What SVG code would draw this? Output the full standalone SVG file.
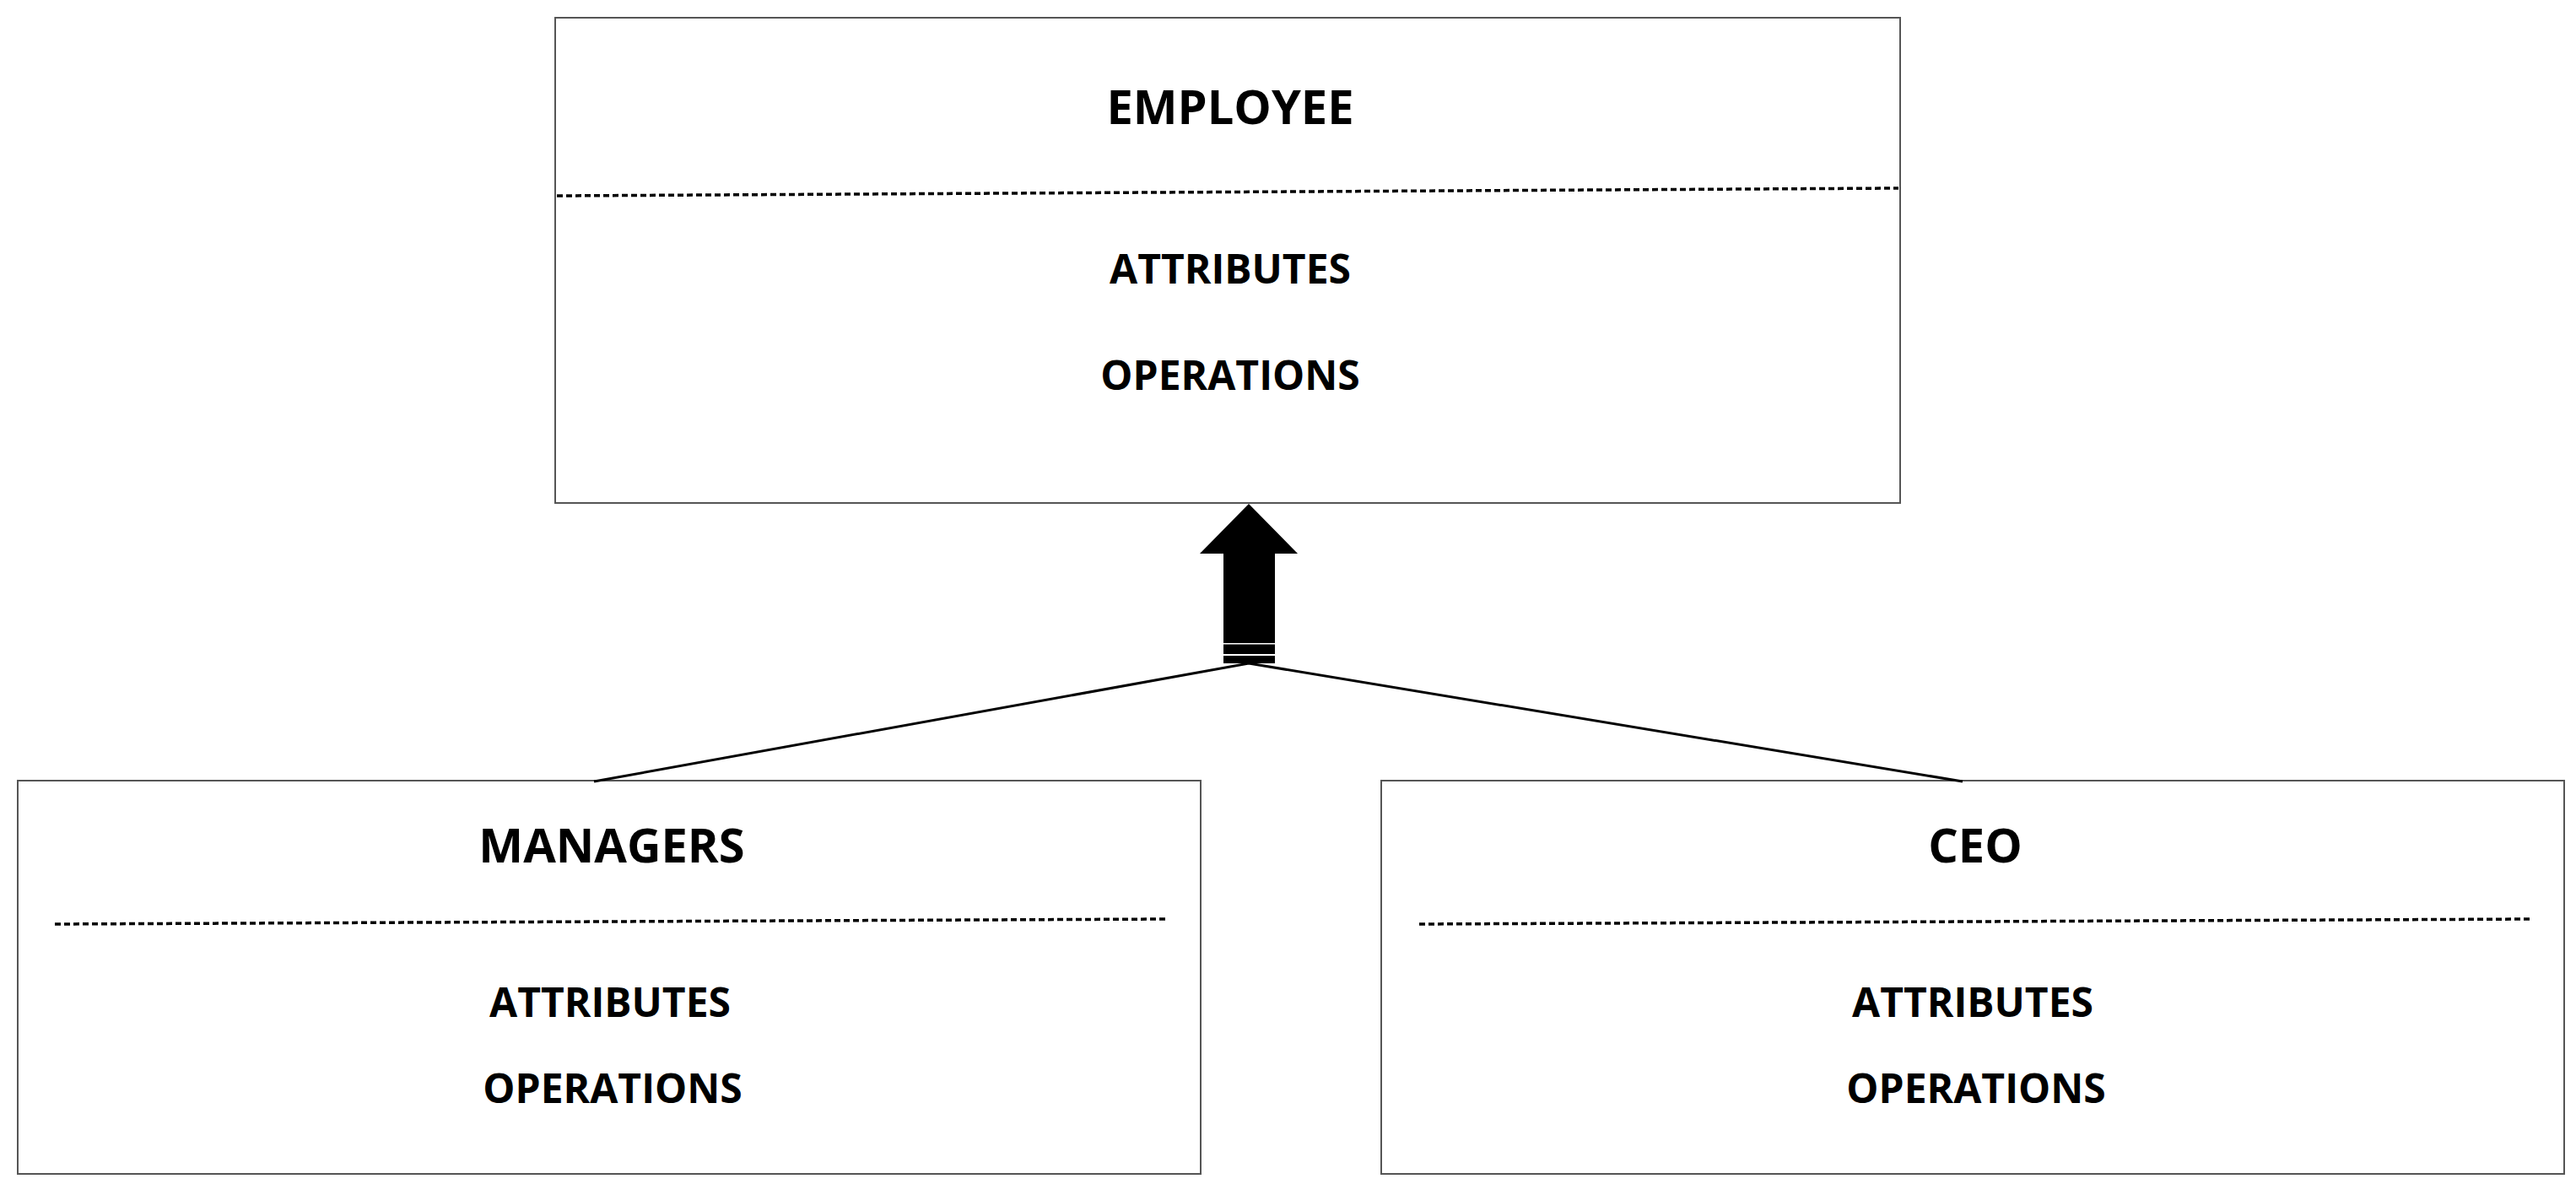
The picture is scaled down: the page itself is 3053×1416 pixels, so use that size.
<svg xmlns="http://www.w3.org/2000/svg" width="3053" height="1416" viewBox="0 0 3053 1416">
<style>
.box{fill:#fff;stroke:#555;stroke-width:2}
.sep{fill:none;stroke:#000;stroke-width:3.5;stroke-dasharray:7 4}
.t{font-family:"Open Sans","Liberation Sans",sans-serif;font-weight:bold;fill:#000;text-anchor:middle}
.title{font-size:56px}
.item{font-size:48px}
.conn{fill:none;stroke:#000;stroke-width:3}
</style>
<rect width="3053" height="1416" fill="#fff"/>
<g id="employee">
<rect class="box" x="658" y="21" width="1594" height="575"/>
<text class="t title" x="1458" y="147">EMPLOYEE</text>
<line class="sep" x1="660" y1="232" x2="2250" y2="223"/>
<text class="t item" x="1458" y="336">ATTRIBUTES</text>
<text class="t item" x="1458" y="462">OPERATIONS</text>
</g>
<g id="managers">
<rect class="box" x="21" y="925" width="1402" height="466"/>
<text class="t title" x="725" y="1022">MANAGERS</text>
<line class="sep" x1="65" y1="1095" x2="1385" y2="1089"/>
<text class="t item" x="723" y="1205">ATTRIBUTES</text>
<text class="t item" x="726" y="1307">OPERATIONS</text>
</g>
<g id="ceo">
<rect class="box" x="1637" y="925" width="1402" height="466"/>
<text class="t title" x="2341" y="1022">CEO</text>
<line class="sep" x1="1682" y1="1095" x2="3001" y2="1089"/>
<text class="t item" x="2338" y="1205">ATTRIBUTES</text>
<text class="t item" x="2342" y="1307">OPERATIONS</text>
</g>
<g id="connectors">
<polyline class="conn" points="704,926 1480,786 2326,926"/>
<polygon points="1480,597 1538,656 1511,656 1511,762 1450,762 1450,656 1422,656" fill="#000"/>
<rect x="1450" y="763.5" width="61" height="11.5" fill="#000"/>
<rect x="1450" y="777" width="61" height="9" fill="#000"/>
</g>
</svg>
